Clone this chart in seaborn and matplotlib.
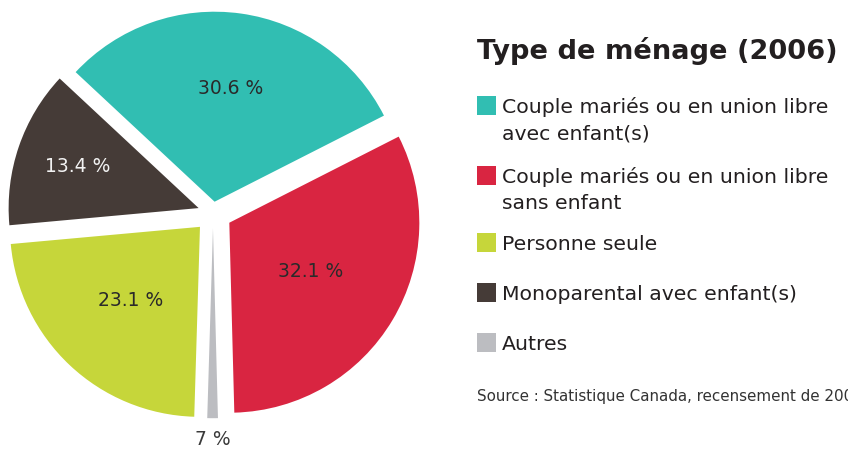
import matplotlib
matplotlib.use("Agg")
import matplotlib.pyplot as plt
import seaborn as sns
import numpy as np
from matplotlib.patches import Rectangle

sns.set_style("white")
plt.rcParams['font.family'] = ['DejaVu Sans']

# ---- data ----
categories = ["Couple mariés ou en union libre\navec enfant(s)",
              "Couple mariés ou en union libre\nsans enfant",
              "Personne seule",
              "Monoparental avec enfant(s)",
              "Autres"]
values = [30.6, 32.1, 23.1, 13.4, 0.9]
pct_labels = ["30.6 %", "32.1 %", "23.1 %", "13.4 %", "7 %"]
colors = ["#31BEB2", "#D92541", "#C6D63A", "#453B37", "#BCBDC1"]
title = "Type de ménage (2006)"
source = "Source : Statistique Canada, recensement de 2006"

# ---- styling / layout ----
pie_order = [0, 1, 4, 2, 3]  # clockwise order in the pie
explode_by = {0: 0.06, 1: 0.1, 4: 0.08, 2: 0.1, 3: 0.08}
label_r = {0: 0.6, 1: 0.5, 4: 1.11, 2: 0.53, 3: 0.67}
label_col = {0: "#2a2a2a", 1: "#2a2a2a", 2: "#2a2a2a", 3: "#f2f2f2", 4: "#3a3a3a"}
text_col = "#231F20"

W, H = 848, 449
fig = plt.figure(figsize=(W / 100, H / 100), dpi=100)
R = 190.0
cx, cy = 213, 213
ax = fig.add_axes([0, 0, 430 / W, 1])
wedges, _ = ax.pie([values[i] for i in pie_order],
                   colors=[colors[i] for i in pie_order],
                   explode=[explode_by[i] for i in pie_order],
                   startangle=137, counterclock=False, radius=1,
                   wedgeprops=dict(linewidth=0))
ax.set_xlim(-cx / R, (430 - cx) / R)
ax.set_ylim(-(H - cy) / R, cy / R)
ax.axis("off")

for w, i in zip(wedges, pie_order):
    mid = np.deg2rad((w.theta1 + w.theta2) / 2)
    x = w.center[0] + label_r[i] * np.cos(mid)
    y = w.center[1] + label_r[i] * np.sin(mid)
    ax.text(x, y, pct_labels[i], ha="center", va="center",
            fontsize=13.5, color=label_col[i])

# title
fig.text(477 / W, 1 - 59 / H, title, fontsize=19.6, fontweight="bold",
         va="baseline", ha="left", color=text_col)

# legend (manual)
sq_tops = [96, 166, 233, 283, 333]
sq = 19
for lab, col, top in zip(categories, colors, sq_tops):
    fig.patches.append(Rectangle((477 / W, 1 - (top + sq) / H), sq / W, sq / H,
                                 transform=fig.transFigure, facecolor=col,
                                 edgecolor="none"))
    for k, line in enumerate(lab.split("\n")):
        fig.text(502 / W, 1 - (top + 17 + 26 * k) / H, line, fontsize=14.7,
                 va="baseline", ha="left", color=text_col)

fig.text(477 / W, 1 - 401 / H, source, fontsize=10.9, va="baseline",
         ha="left", color="#333333")

fig.savefig("out.png", dpi=100)
